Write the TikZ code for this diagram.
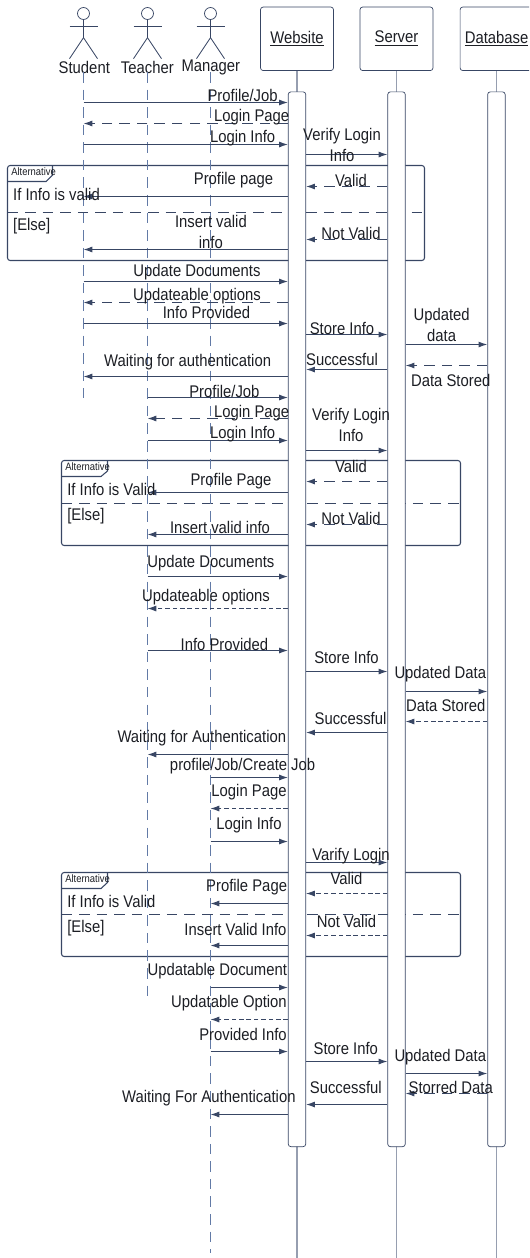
\documentclass[tikz,border=0pt]{standalone}
\usepackage{fontspec}
\setmainfont[FakeStretch=0.88]{Liberation Sans}
\usetikzlibrary{arrows.meta, calc}
\definecolor{linecol}{RGB}{56,70,100}
\definecolor{lifecol}{RGB}{98,122,166}
\definecolor{tailcol}{RGB}{150,158,176}
\definecolor{textcol}{RGB}{28,30,36}
\tikzset{
	lab/.style={inner sep=0pt, text=textcol, align=center, yshift=-0.5pt, font=\fontsize{9.6}{11.9}\selectfont},
	tinylab/.style={inner sep=0pt, anchor=west, text=textcol, font=\fontsize{6.1}{7}\selectfont},
	headbox/.style={draw=linecol, fill=white, rounded corners=1.5pt, minimum width=1.46cm, minimum height=1.27cm, inner sep=0pt, text=textcol, font=\fontsize{9.6}{11}\selectfont},
	barbox/.style={draw=linecol, fill=white, rounded corners=1.5pt, minimum width=0.35cm, minimum height=21.1cm, inner sep=0pt, anchor=north},
	actorhead/.style={circle, draw=linecol, minimum size=0.24cm, inner sep=0pt},
	actorline/.style={draw=linecol, line width=0.5pt},
	lifeline/.style={draw=lifecol, line width=0.7pt, dash pattern=on 6pt off 4pt},
	tail/.style={draw=tailcol, line width=0.9pt},
	framebox/.style={draw=linecol, line width=0.6pt, rounded corners=1.5pt},
	framesplit/.style={draw=linecol, line width=0.5pt, dash pattern=on 6pt off 4pt},
	msg/.style={draw=linecol, line width=0.55pt, -{Latex[length=5pt, width=3.4pt]}},
	backmsg/.style={msg, dash pattern=on 6pt off 4pt},
	thinback/.style={msg, line width=0.45pt, dash pattern=on 2.6pt off 1.6pt},
}
\begin{document}
\begin{tikzpicture}[x=0.02cm, y=0.02cm]
	\useasboundingbox (0,0) rectangle (529,-1258);
	\clip (0,0) rectangle (529,-1258);

	\draw[framebox] (7.5,-165.5) rectangle (424.5,-260.5);
	\draw[framesplit] (7.5,-212.5) -- (424.5,-212.5);
	\draw[framebox, rounded corners=0pt] (7.5,-181.5) -- (46,-181.5) -- (52.5,-175) -- (52.5,-165.5);
	\draw[framebox] (61.5,-460.5) rectangle (460.5,-545.5);
	\draw[framesplit] (61.5,-503.5) -- (460.5,-503.5);
	\draw[framebox, rounded corners=0pt] (61.5,-476.5) -- (101,-476.5) -- (107.5,-471) -- (107.5,-460.5);
	\draw[framebox] (61.5,-872.5) rectangle (460.5,-956.5);
	\draw[framesplit] (61.5,-914.5) -- (460.5,-914.5);
	\draw[framebox, rounded corners=0pt] (61.5,-888.5) -- (101,-888.5) -- (107.5,-882.5) -- (107.5,-872.5);
	\node[tinylab] (altA) at (11,-171.7) {Alternative};
	\node[tinylab] (altB) at (65,-467) {Alternative};
	\node[tinylab] (altC) at (65,-878.3) {Alternative};

	\node[actorhead] (stuhead) at (83.5,-13.5) {};
	\node[actorhead] (teahead) at (147.5,-13.5) {};
	\node[actorhead] (manhead) at (210.5,-13.5) {};
	\draw[actorline] (stuhead.south) -- (stuhead |- 0,-37.7) -- +(-14,-21);
	\draw[actorline] (stuhead |- 0,-37.7) -- +(14,-21);
	\draw[actorline] ($(stuhead |- 0,-26.5)+(-14,0)$) -- +(28,0);
	\draw[actorline] (teahead.south) -- (teahead |- 0,-37.7) -- +(-14,-21);
	\draw[actorline] (teahead |- 0,-37.7) -- +(14,-21);
	\draw[actorline] ($(teahead |- 0,-26.5)+(-14,0)$) -- +(28,0);
	\draw[actorline] (manhead.south) -- (manhead |- 0,-37.7) -- +(-14,-21);
	\draw[actorline] (manhead |- 0,-37.7) -- +(14,-21);
	\draw[actorline] ($(manhead |- 0,-26.5)+(-14,0)$) -- +(28,0);
	\node[lab] (stu) at (84.3,-67) {Student};
	\node[lab] (tea) at (147.4,-67) {Teacher};
	\node[lab] (man) at (210.9,-67) {Manager};
	\draw[lifeline] (stuhead |- 0,-72) -- (stuhead |- 0,-398);
	\draw[lifeline] (teahead |- 0,-72) -- (teahead |- 0,-998);
	\draw[lifeline] (manhead |- 0,-72) -- (manhead |- 0,-1253);

	\node[headbox] (webhead) at (297,-38.8) {\underline{Website}};
	\node[headbox] (serhead) at (396.5,-38.8) {\underline{Server}};
	\node[headbox] (dbhead) at (496.6,-38.8) {\underline{Database}};
	\draw[tail] (webhead.south) -- (webhead |- 0,-1258);
	\draw[tail] (serhead.south) -- (serhead |- 0,-1258);
	\draw[tail] (dbhead.south) -- (dbhead |- 0,-1258);
	\node[barbox] (webbar) at (297,-91.5) {};
	\node[barbox] (serbar) at (396.5,-91.5) {};
	\node[barbox] (dbbar) at (496.4,-91.5) {};

	\draw[msg] (stuhead |- 0,-102.5) -- (webbar.west |- 0,-102.5);
	\draw[backmsg] (webbar.west |- 0,-123.5) -- (stuhead |- 0,-123.5);
	\draw[msg] (stuhead |- 0,-144.5) -- (webbar.west |- 0,-144.5);
	\draw[msg] (webbar.east |- 0,-154.5) -- (serbar.west |- 0,-154.5);
	\draw[backmsg] (serbar.west |- 0,-186.5) -- (webbar.east |- 0,-186.5);
	\draw[msg] (webbar.west |- 0,-196.5) -- (stuhead |- 0,-196.5);
	\draw[backmsg] (serbar.west |- 0,-239.5) -- (webbar.east |- 0,-239.5);
	\draw[msg] (webbar.west |- 0,-249.5) -- (stuhead |- 0,-249.5);
	\node[lab] (a1) at (242.6,-95) {Profile/Job};
	\node[lab] (a2) at (251.7,-116.7) {Login Page};
	\node[lab] (a3) at (242.6,-137) {Login Info};
	\node[lab] (a4) at (342,-143.7) {Verify Login\\Info};
	\node[lab] (a5) at (351,-179.3) {Valid};
	\node[lab] (a6) at (233.5,-179) {Profile page};
	\node[lab, anchor=west] (a7) at (12.8,-193.3) {If Info is valid};
	\node[lab, anchor=west] (a8) at (12.8,-225.3) {[Else]};
	\node[lab] (a9) at (351,-232.7) {Not Valid};
	\node[lab] (a10) at (210.9,-231) {Insert valid\\info};

	\draw[msg] (stuhead |- 0,-281.5) -- (webbar.west |- 0,-281.5);
	\draw[backmsg] (webbar.west |- 0,-302.5) -- (stuhead |- 0,-302.5);
	\draw[msg] (stuhead |- 0,-323.5) -- (webbar.west |- 0,-323.5);
	\draw[msg] (webbar.east |- 0,-334.5) -- (serbar.west |- 0,-334.5);
	\draw[msg] (serbar.east |- 0,-344.5) -- (dbbar.west |- 0,-344.5);
	\draw[backmsg] (dbbar.west |- 0,-365.5) -- (serbar.east |- 0,-365.5);
	\draw[msg] (serbar.west |- 0,-369.5) -- (webbar.east |- 0,-369.5);
	\draw[msg] (webbar.west |- 0,-376.5) -- (stuhead |- 0,-376.5);
	\node[lab] (b1) at (197,-271) {Update Documents};
	\node[lab] (b2) at (197,-295) {Updateable options};
	\node[lab] (b3) at (206.5,-311.7) {Info Provided};
	\node[lab] (b4) at (342,-327.3) {Store Info};
	\node[lab] (b5) at (441.6,-324) {Updated\\data};
	\node[lab] (b6) at (342,-359) {Successful};
	\node[lab] (b7) at (450.7,-380) {Data Stored};
	\node[lab] (b8) at (187.6,-361.3) {Waiting for authentication};

	\draw[msg] (teahead |- 0,-397.5) -- (webbar.west |- 0,-397.5);
	\draw[backmsg] (webbar.west |- 0,-418.5) -- (teahead |- 0,-418.5);
	\draw[msg] (teahead |- 0,-440.5) -- (webbar.west |- 0,-440.5);
	\draw[msg] (webbar.east |- 0,-450.5) -- (serbar.west |- 0,-450.5);
	\draw[backmsg] (serbar.west |- 0,-481.5) -- (webbar.east |- 0,-481.5);
	\draw[msg] (webbar.west |- 0,-492.5) -- (teahead |- 0,-492.5);
	\draw[backmsg] (serbar.west |- 0,-524.5) -- (webbar.east |- 0,-524.5);
	\draw[msg] (webbar.west |- 0,-534.5) -- (teahead |- 0,-534.5);
	\node[lab] (c1) at (224.4,-390.7) {Profile/Job};
	\node[lab] (c2) at (251.7,-412.3) {Login Page};
	\node[lab] (c3) at (351,-424) {Verify Login\\Info};
	\node[lab] (c4) at (242.6,-433) {Login Info};
	\node[lab] (c5) at (351,-466) {Valid};
	\node[lab] (c6) at (231,-480) {Profile Page};
	\node[lab, anchor=west] (c7) at (67,-489) {If Info is Valid};
	\node[lab] (c8) at (351,-517.3) {Not Valid};
	\node[lab, anchor=west] (c9) at (67,-515.7) {[Else]};
	\node[lab] (c10) at (220,-527) {Insert valid info};

	\draw[msg] (teahead |- 0,-576.5) -- (webbar.west |- 0,-576.5);
	\draw[thinback] (webbar.west |- 0,-608.5) -- (teahead |- 0,-608.5);
	\draw[msg] (teahead |- 0,-650.5) -- (webbar.west |- 0,-650.5);
	\draw[msg] (webbar.east |- 0,-671.5) -- (serbar.west |- 0,-671.5);
	\draw[msg] (serbar.east |- 0,-691.5) -- (dbbar.west |- 0,-691.5);
	\draw[thinback] (dbbar.west |- 0,-721.5) -- (serbar.east |- 0,-721.5);
	\draw[msg] (serbar.west |- 0,-732.5) -- (webbar.east |- 0,-732.5);
	\draw[msg] (webbar.west |- 0,-754.5) -- (teahead |- 0,-754.5);
	\node[lab] (d1) at (210.9,-562.3) {Update Documents};
	\node[lab] (d2) at (206,-596.7) {Updateable options};
	\node[lab] (d3) at (224.4,-643.7) {Info Provided};
	\node[lab] (d4) at (346.5,-656.3) {Store Info};
	\node[lab] (d5) at (440.3,-673.7) {Updated Data};
	\node[lab] (d6) at (445.7,-704.3) {Data Stored};
	\node[lab] (d7) at (350.5,-718) {Successful};
	\node[lab] (d8) at (201.8,-737) {Waiting for Authentication};

	\draw[msg] (manhead |- 0,-777.5) -- (webbar.west |- 0,-777.5);
	\draw[thinback] (webbar.west |- 0,-808.5) -- (manhead |- 0,-808.5);
	\draw[msg] (manhead |- 0,-841.5) -- (webbar.west |- 0,-841.5);
	\draw[msg] (webbar.east |- 0,-862.5) -- (serbar.west |- 0,-862.5);
	\draw[thinback] (serbar.west |- 0,-893.5) -- (webbar.east |- 0,-893.5);
	\draw[msg] (webbar.west |- 0,-903.5) -- (manhead |- 0,-903.5);
	\draw[thinback] (serbar.west |- 0,-935.5) -- (webbar.east |- 0,-935.5);
	\draw[msg] (webbar.west |- 0,-945.5) -- (manhead |- 0,-945.5);
	\node[lab] (e1) at (242.6,-765.3) {profile/Job/Create Job};
	\node[lab] (e2) at (249,-791.3) {Login Page};
	\node[lab] (e3) at (249,-824) {Login Info};
	\node[lab] (e4) at (351,-855) {Varify Login};
	\node[lab] (e5) at (346.5,-878) {Valid};
	\node[lab] (e6) at (246.6,-886) {Profile Page};
	\node[lab, anchor=west] (e7) at (67,-900.3) {If Info is Valid};
	\node[lab] (e8) at (346.5,-920.7) {Not Valid};
	\node[lab, anchor=west] (e9) at (67,-927) {[Else]};
	\node[lab] (e10) at (235.5,-928.3) {Insert Valid Info};

	\draw[msg] (manhead |- 0,-987.5) -- (webbar.west |- 0,-987.5);
	\draw[thinback] (webbar.west |- 0,-1019.5) -- (manhead |- 0,-1019.5);
	\draw[msg] (manhead |- 0,-1051.5) -- (webbar.west |- 0,-1051.5);
	\draw[msg] (webbar.east |- 0,-1061.5) -- (serbar.west |- 0,-1061.5);
	\draw[msg] (serbar.east |- 0,-1073.5) -- (dbbar.west |- 0,-1073.5);
	\draw[backmsg] (dbbar.west |- 0,-1093.5) -- (serbar.east |- 0,-1093.5);
	\draw[msg] (serbar.west |- 0,-1104.5) -- (webbar.east |- 0,-1104.5);
	\draw[msg] (webbar.west |- 0,-1114.5) -- (manhead |- 0,-1114.5);
	\node[lab] (f1) at (217.3,-970.7) {Updatable Document};
	\node[lab] (f2) at (229,-1002.3) {Updatable Option};
	\node[lab] (f3) at (243,-1033.7) {Provided Info};
	\node[lab] (f4) at (345.8,-1047.3) {Store Info};
	\node[lab] (f5) at (440.3,-1056) {Updated Data};
	\node[lab] (f6) at (450.7,-1087) {Storred Data};
	\node[lab] (f7) at (345.8,-1087) {Successful};
	\node[lab] (f8) at (208.8,-1097) {Waiting For Authentication};
\end{tikzpicture}
\end{document}
